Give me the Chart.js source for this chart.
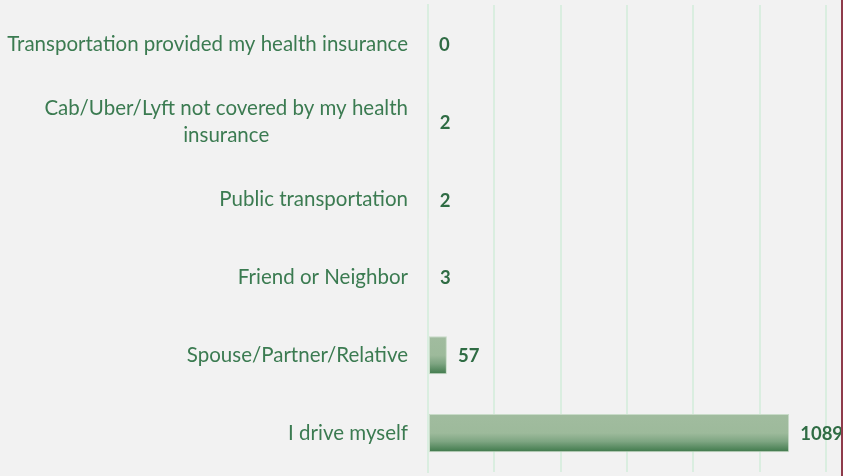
<!DOCTYPE html>
<html>
<head>
<meta charset="utf-8">
<script src="https://cdn.jsdelivr.net/npm/chart.js@4.4.1/dist/chart.umd.min.js"></script>
<style>
  html, body { margin: 0; padding: 0; background: #f2f2f2; }
  #wrap { position: relative; width: 843px; height: 476px; }
  #edge { position: absolute; right: 0; top: 0; width: 2px; height: 476px; background: #8e3b4b; }
</style>
</head>
<body>
<div id="wrap">
  <canvas id="rideChart" width="843" height="476"></canvas>
  <div id="edge"></div>
</div>
<script>
const categories = [
    'Transportation provided my health insurance',
    ['Cab/Uber/Lyft not covered by my health', 'insurance'],
    'Public transportation',
    'Friend or Neighbor',
    'Spouse/Partner/Relative',
    'I drive myself'
];
const responses = [0, 2, 2, 3, 57, 1089];
const axisMax = 1200;
const axisStep = 200;

const labelColor = '#3b7b51';
const valueColor = '#2f6c44';

function barGradient(context) {
    const chart = context.chart;
    const yScale = chart.scales.y;
    if (!yScale || context.dataIndex === undefined) return '#9fbb9d';
    const center = yScale.getPixelForValue(context.dataIndex);
    if (!isFinite(center)) return '#9fbb9d';
    const half = 19;
    const g = chart.ctx.createLinearGradient(0, center - half, 0, center + half);
    g.addColorStop(0, '#a1bc9f');
    g.addColorStop(0.5, '#9dba9b');
    g.addColorStop(0.72, '#7ea582');
    g.addColorStop(1, '#3e784a');
    return g;
}

// category names: right edge against the axis, wrapped lines centred on each other
const categoryLabels = {
    id: 'categoryLabels',
    afterDraw(chart) {
        const ctx = chart.ctx;
        const yScale = chart.scales.y;
        const right = chart.chartArea.left - 20;
        const lineHeight = 27;
        ctx.save();
        ctx.font = '20.5px Lato';
        ctx.fillStyle = labelColor;
        ctx.textBaseline = 'middle';
        ctx.textAlign = 'center';
        categories.forEach((cat, i) => {
            const lines = Array.isArray(cat) ? cat : [cat];
            const widest = Math.max(...lines.map(l => ctx.measureText(l).width));
            const cx = right - widest / 2;
            const cy = yScale.getPixelForValue(i);
            const top = cy - (lines.length - 1) * lineHeight / 2;
            lines.forEach((l, j) => ctx.fillText(l, cx, top + j * lineHeight));
        });
        ctx.restore();
    }
};

// writes each count just past the end of its bar
const valueLabels = {
    id: 'valueLabels',
    afterDatasetsDraw(chart) {
        const ctx = chart.ctx;
        const meta = chart.getDatasetMeta(0);
        ctx.save();
        ctx.font = 'bold 18.5px Lato';
        ctx.fillStyle = valueColor;
        ctx.textBaseline = 'middle';
        ctx.textAlign = 'left';
        meta.data.forEach((bar, i) => {
            ctx.fillText(String(responses[i]), bar.x + 11, bar.y + 1);
        });
        ctx.restore();
    }
};

const ctx = document.getElementById('rideChart').getContext('2d');
new Chart(ctx, {
    type: 'bar',
    data: {
        labels: categories,
        datasets: [{
            data: responses,
            backgroundColor: barGradient,
            borderColor: '#c9dcc9',
            borderWidth: 1,
            borderSkipped: false,
            barPercentage: 0.49,
            categoryPercentage: 1
        }]
    },
    options: {
        indexAxis: 'y',
        responsive: false,
        animation: false,
        layout: { padding: { top: 5, right: 17, bottom: 4, left: 0 } },
        plugins: {
            legend: { display: false },
            tooltip: { enabled: false }
        },
        scales: {
            x: {
                min: 0,
                max: axisMax,
                ticks: { display: false, stepSize: axisStep },
                grid: { color: '#daeee0', lineWidth: 2, drawTicks: false },
                border: { display: false }
            },
            y: {
                afterFit(scale) {
                    scale.width = 428;
                    scale.paddingTop = 0;
                    scale.paddingBottom = 0;
                },
                ticks: { display: false },
                grid: { display: false, drawTicks: false },
                border: { display: true, color: '#daeee0', width: 2 }
            }
        }
    },
    plugins: [valueLabels, categoryLabels]
});
</script>
</body>
</html>
